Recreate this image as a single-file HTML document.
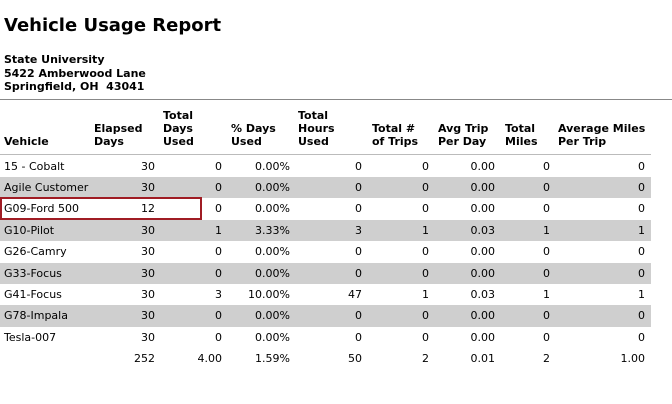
<!DOCTYPE html>
<html><head><meta charset="utf-8">
<style>
body{margin:0;width:672px;height:404px;background:#fff;font-family:"DejaVu Sans","Liberation Sans",sans-serif;color:#000;position:relative;overflow:hidden}
.a{position:absolute;white-space:nowrap;font-size:11px;line-height:13px}
.b{font-weight:bold}
.r{text-align:right}
</style></head><body>
<div class="a b" style="left:4px;top:15px;font-size:18px;line-height:22px">Vehicle Usage Report</div>
<div class="a b" style="left:4px;top:53px;line-height:13.5px">State University<br>5422 Amberwood Lane<br>Springfield, OH&nbsp; 43041</div>
<div style="position:absolute;left:0;top:99px;width:672px;height:1px;background:#888"></div>
<div id="tbl"></div>
<script>
const vehicles=["15 - Cobalt","Agile Customer","G09-Ford 500","G10-Pilot","G26-Camry","G33-Focus","G41-Focus","G78-Impala","Tesla-007"];
const elapsed=["30","30","12","30","30","30","30","30","30"];
const daysUsed=["0","0","0","1","0","0","3","0","0"];
const pctDays=["0.00%","0.00%","0.00%","3.33%","0.00%","0.00%","10.00%","0.00%","0.00%"];
const hours=["0","0","0","3","0","0","47","0","0"];
const trips=["0","0","0","1","0","0","1","0","0"];
const avgTrip=["0.00","0.00","0.00","0.03","0.00","0.00","0.03","0.00","0.00"];
const miles=["0","0","0","1","0","0","1","0","0"];
const avgMiles=["0","0","0","1","0","0","1","0","0"];
const totals=["252","4.00","1.59%","50","2","0.01","2","1.00"];
const headers=["Vehicle","Elapsed<br>Days","Total<br>Days<br>Used","% Days<br>Used","Total<br>Hours<br>Used","Total #<br>of Trips","Avg Trip<br>Per Day","Total<br>Miles","Average Miles<br>Per Trip"];
const hLeft=[4,94,163,231,298,372,438,505,558];
const rightEdge=[155,222,290,362,429,495,550,645];
const cols=[elapsed,daysUsed,pctDays,hours,trips,avgTrip,miles,avgMiles];
const T=document.getElementById('tbl');
function add(txt,x,y,cls,name,right){
  const d=document.createElement('div');
  d.className='a '+cls;
  d.innerHTML=txt;
  if(right){d.style.right=(672-x)+'px';}else{d.style.left=x+'px';}
  d.style.top=y+'px';
  
  
  T.appendChild(d);
}
headers.forEach((h,i)=>{
  const lines=h.split('<br>').length;
  add(h,hLeft[i],150-lines*13-2,'b','column-header',false);
});
const hr=document.createElement('div');
hr.style.cssText='position:absolute;left:0;top:154px;width:651px;height:1px;background:#bbb';


T.appendChild(hr);
const RH=21.4, R0=155.5;
vehicles.forEach((v,i)=>{
  const y=R0+i*RH;
  if(i%2===1){
    const g=document.createElement('div');
    g.style.cssText='position:absolute;left:0;top:'+y+'px;width:651px;height:'+RH+'px;background:#cfcfcf';
    
    
    T.appendChild(g);
  }
  add(v,4,y+4,'','vehicle-name',false);
  cols.forEach((c,j)=>add(c[i],rightEdge[j],y+4,'','cell-value',true));
});
const ty=R0+vehicles.length*RH;
totals.forEach((t,j)=>add(t,rightEdge[j],ty+4,'','total-value',true));
const box=document.createElement('div');
box.style.cssText='position:absolute;left:0;top:'+(R0+2*RH-1)+'px;width:198px;height:19px;border:2px solid #a01c24';


T.appendChild(box);
</script>
</body></html>
